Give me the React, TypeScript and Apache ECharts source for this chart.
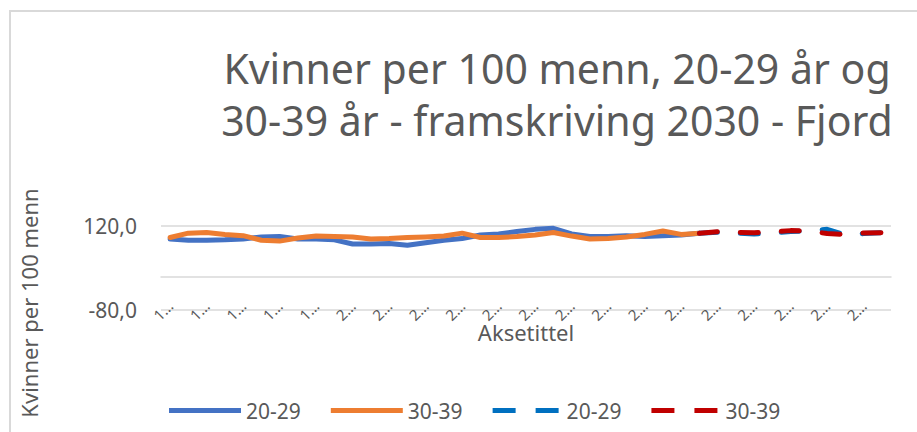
import React, { useEffect, useRef } from "react";
import * as echarts from "echarts";

const categories = [
  "1991", "1992", "1993", "1994", "1995", "1996", "1997", "1998", "1999", "2000",
  "2001", "2002", "2003", "2004", "2005", "2006", "2007", "2008", "2009", "2010",
  "2011", "2012", "2013", "2014", "2015", "2016", "2017", "2018", "2019", "2020",
  "2021", "2022", "2023", "2024", "2025", "2026", "2027", "2028", "2029", "2030",
];

// 1991–2020 (registered)
const solid2029 = [
  89, 86, 86, 87, 89, 94, 95, 89, 89, 87,
  77, 77, 78.5, 74, 80, 86, 90, 98.5, 101, 107,
  112, 114.5, 101, 95, 95, 97, 95, 97, 98.5, 103,
];
const solid3039 = [
  92.6, 103, 104.5, 100, 97, 86, 84, 91.5, 96, 95,
  94, 89, 90, 92.5, 94, 96, 103, 92.5, 92.5, 95,
  98.5, 104.5, 96, 89, 90, 94, 100, 108, 100, 103,
];
// 2020–2030 (projection)
const proj2029 = [103, 105, 103, 101, 103, 107, 108, 112, 98.5, 102, 104];
const proj3039 = [102.6, 106.5, 104.5, 104, 106, 109, 108, 102, 100, 103.5, 104];

const yTicks = [-80, 120];

const titleLines = [
  "Kvinner per 100 menn, 20-29 år og",
  "30-39 år - framskriving 2030 - Fjord",
];
const yAxisTitle = "Kvinner per 100 menn";
const xAxisTitle = "Aksetittel";
const seriesNames = ["20-29", "30-39", "20-29", "30-39"];

const FONT = "'Noto Sans', 'Open Sans', sans-serif";
const TXT = "#595959";

const SOLID_ICON = "path://M0,0 H72 V5 H0 Z";
const DASH_ICON = "path://M0,0 H23 V5 H0 Z M43,0 H66 V5 H43 Z";

export default function App() {
  const ref = useRef<HTMLDivElement>(null);

  useEffect(() => {
    if (!ref.current) return;
    const chart = echarts.init(ref.current, undefined, { renderer: "svg" });
    const n = categories.length;
    const projStart = n - proj2029.length;
    const pad = (arr: number[], start: number) =>
      categories.map((_, i) => (i >= start && i - start < arr.length ? arr[i - start] : null));

    const lw = 5;
    const names = [seriesNames[0], seriesNames[1] + " ", seriesNames[2] + "  ", seriesNames[3] + "   "];
    const option: any = {
      animation: false,
      backgroundColor: "#ffffff",
      textStyle: { fontFamily: FONT },
      grid: { left: 161, right: 26, top: 226, bottom: 122, containLabel: false },
      xAxis: {
        type: "category",
        data: categories,
        boundaryGap: true,
        axisLine: { show: true, lineStyle: { color: "#d9d9d9", width: 1.5 } },
        axisTick: { show: false },
        axisLabel: {
          interval: 1,
          rotate: 45,
          color: TXT,
          fontSize: 15,
          fontFamily: FONT,
          margin: -7,
          formatter: (v: string) => v.charAt(0) + "…",
        },
      },
      yAxis: {
        type: "value",
        min: yTicks[0],
        max: yTicks[1],
        interval: yTicks[1] - yTicks[0],
        axisLine: { show: false },
        axisTick: { show: false },
        splitLine: { show: true, lineStyle: { color: "#d9d9d9", width: 1.5 } },
        axisLabel: {
          color: TXT,
          fontSize: 21,
          fontFamily: FONT,
          margin: 24,
          formatter: (v: number) => v.toFixed(1).replace(".", ","),
        },
      },
      legend: {
        left: 164,
        top: 395,
        itemWidth: 72,
        itemHeight: 5,
        itemGap: 30,
        textStyle: { color: TXT, fontSize: 21, fontFamily: FONT },
        formatter: (name: string) => name.trim(),
        data: [
          { name: names[0], icon: SOLID_ICON, itemStyle: { color: "#4472C4" } },
          { name: names[1], icon: SOLID_ICON, itemStyle: { color: "#ED7D31" } },
          { name: names[2], icon: DASH_ICON, itemStyle: { color: "#0070C0" } },
          { name: names[3], icon: DASH_ICON, itemStyle: { color: "#C00000" } },
        ],
      },
      series: [
        {
          name: names[0],
          type: "line",
          data: pad(solid2029, 0),
          symbol: "none",
          lineStyle: { color: "#4472C4", width: lw, cap: "round", join: "round" },
          itemStyle: { color: "#4472C4" },
          z: 2,
        },
        {
          name: names[1],
          type: "line",
          data: pad(solid3039, 0),
          symbol: "none",
          lineStyle: { color: "#ED7D31", width: lw, cap: "round", join: "round" },
          itemStyle: { color: "#ED7D31" },
          z: 3,
        },
        {
          name: names[2],
          type: "line",
          data: pad(proj2029, projStart),
          symbol: "none",
          lineStyle: { color: "#0070C0", width: lw, type: [18, 23], cap: "round", join: "round" },
          itemStyle: { color: "#0070C0" },
          z: 4,
        },
        {
          name: names[3],
          type: "line",
          data: pad(proj3039, projStart),
          symbol: "none",
          lineStyle: { color: "#C00000", width: lw, type: [18, 23], cap: "round", join: "round" },
          itemStyle: { color: "#C00000" },
          z: 5,
        },
      ],
      graphic: [
        {
          type: "rect",
          shape: { x: 10, y: 11, width: 1200, height: 1000 },
          style: { fill: "none", stroke: "#d9d9d9", lineWidth: 2 },
          silent: true,
        },
        {
          type: "text",
          x: 557,
          y: 68,
          style: { text: titleLines[0], align: "center", verticalAlign: "middle", fill: TXT, fontSize: 41, fontFamily: FONT },
        },
        {
          type: "text",
          x: 557,
          y: 120,
          style: { text: titleLines[1], align: "center", verticalAlign: "middle", fill: TXT, fontSize: 41, fontFamily: FONT },
        },
        {
          type: "text",
          x: 29,
          y: 303,
          rotation: Math.PI / 2,
          style: { text: yAxisTitle, align: "center", verticalAlign: "middle", fill: TXT, fontSize: 22, fontFamily: FONT },
        },
        {
          type: "text",
          x: 526,
          y: 332,
          style: { text: xAxisTitle, align: "center", verticalAlign: "middle", fill: TXT, fontSize: 22, fontFamily: FONT },
        },
      ],
    };
    chart.setOption(option);
    return () => chart.dispose();
  }, []);

  return (
    <div
      ref={ref}
      style={{ position: "fixed", left: 0, top: 0, width: 917, height: 432, background: "#fff" }}
    />
  );
}
